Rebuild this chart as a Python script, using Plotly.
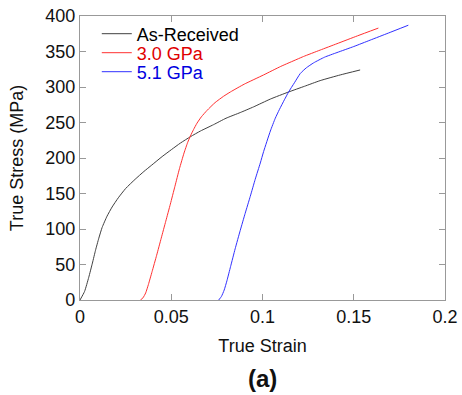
import plotly.graph_objects as go

# As-Received
ar_strain = [0, 0.0025, 0.0048, 0.0068, 0.0085, 0.0103, 0.0121, 0.0148, 0.0176, 0.0210,
             0.0250, 0.0302, 0.0350, 0.0393, 0.0450, 0.0502, 0.0550, 0.0605, 0.0660, 0.0732,
             0.0800, 0.0878, 0.0951, 0.1043, 0.1143, 0.1230, 0.1316, 0.1426, 0.1535]
ar_stress = [0, 12, 32, 52, 70, 87, 102, 118, 131, 144,
             157, 170, 181, 190, 202, 212, 221, 230, 238, 247,
             256, 264, 272, 283, 293, 301, 309, 317, 324]

# 3.0 GPa
g30_strain = [0.0331, 0.0345, 0.0360, 0.0375, 0.0395, 0.0420, 0.0445, 0.0470, 0.0495, 0.0520,
              0.0545, 0.0570, 0.0590, 0.0605, 0.0622, 0.0641, 0.0665, 0.0696, 0.0740, 0.0787,
              0.0824, 0.0900, 0.1006, 0.1100, 0.1189, 0.1225, 0.1316, 0.1408, 0.1520, 0.1635]
g30_stress = [0, 3, 10, 22, 40, 63, 87, 111, 135, 160,
              185, 207, 222, 231, 240, 249, 258, 267, 278, 287,
              293, 304, 317, 329, 339, 343, 352, 361, 372, 383]

# 5.1 GPa
g51_strain = [0.0760, 0.0775, 0.0790, 0.0805, 0.0825, 0.0850, 0.0878, 0.0905, 0.0933, 0.0960,
              0.0988, 0.1006, 0.1043, 0.1070, 0.1092, 0.1120, 0.1143, 0.1175, 0.1207, 0.1240,
              0.1280, 0.1340, 0.1408, 0.1500, 0.1590, 0.1690, 0.1799]
g51_stress = [0, 5, 14, 27, 47, 72, 98, 122, 146, 170,
              193, 209, 238, 256, 268, 282, 293, 306, 319, 327,
              334, 342, 348.5, 357, 366, 376, 387]

series_names = ["As-Received", "3.0 GPa", "5.1 GPa"]
line_colors = ["#404040", "#ff3030", "#3030ff"]
text_colors = ["#000000", "#e00000", "#0000e0"]

x_ticks = [0, 0.05, 0.1, 0.15, 0.2]
x_labels = ["0", "0.05", "0.1", "0.15", "0.2"]
y_ticks = [0, 50, 100, 150, 200, 250, 300, 350, 400]

FONT = "Liberation Sans, Arial, sans-serif"

fig = go.Figure()
data = [(ar_strain, ar_stress), (g30_strain, g30_stress), (g51_strain, g51_stress)]
legend_ids = ["legend", "legend2", "legend3"]
for (xs, ys), name, lc, lg in zip(data, series_names, line_colors, legend_ids):
    fig.add_trace(go.Scatter(x=xs, y=ys, mode="lines", name=name,
                             line=dict(color=lc, width=1, shape="spline", smoothing=0.5),
                             legend=lg))

W, H = 462, 395
L, R, T, B = 79.5, 17, 16, 95
ph = H - T - B

def legend_cfg(i):
    row_y = 34 + 19 * i  # pixel center of row
    return dict(x=0.046, xanchor="left", y=1 - (row_y - T) / ph, yanchor="middle",
                bgcolor="rgba(0,0,0,0)", borderwidth=0,
                font=dict(family=FONT, size=18, color=text_colors[i]),
                itemwidth=30)

fig.update_layout(
    width=W, height=H,
    margin=dict(l=L, r=R, t=T, b=B, pad=0, autoexpand=False),
    paper_bgcolor="white", plot_bgcolor="white",
    font=dict(family=FONT, size=18, color="#111"),
    showlegend=True,
    legend=legend_cfg(0), legend2=legend_cfg(1), legend3=legend_cfg(2),
    xaxis=dict(range=[0, 0.2], tickvals=x_ticks, ticktext=x_labels,
               ticks="inside", ticklen=6, tickcolor="#999", tickwidth=1,
               showline=True, linecolor="#999", linewidth=1.3, mirror="ticks",
               showgrid=False, zeroline=False, automargin=False,
               tickfont=dict(family=FONT, size=18, color="#111"),
               title=dict(text="True Strain", font=dict(family=FONT, size=18, color="#111"), standoff=13)),
    yaxis=dict(range=[0, 400], tickvals=y_ticks,
               ticks="inside", ticklen=6, tickcolor="#999", tickwidth=1,
               showline=True, linecolor="#999", linewidth=1.3, mirror="ticks",
               showgrid=False, zeroline=False, automargin=False,
               tickfont=dict(family=FONT, size=18, color="#111"),
               title=dict(text="True Stress (MPa)", font=dict(family=FONT, size=18, color="#111"), standoff=16)),
    annotations=[dict(text="<b>(a)</b>", xref="paper", yref="paper", x=0.5, y=0,
                      xanchor="center", yanchor="middle", yshift=-78, showarrow=False,
                      font=dict(family=FONT, size=24, color="#111"))],
)

fig.write_html("out.html", config={"displayModeBar": False},
               post_script="document.body.style.margin='0';document.body.style.overflow='hidden';")
